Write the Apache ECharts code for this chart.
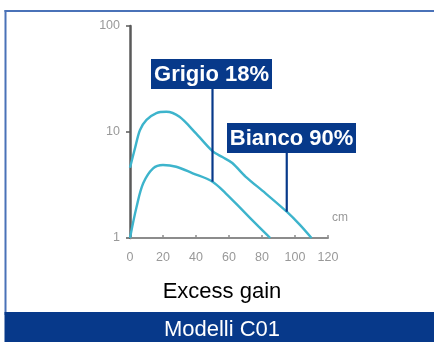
<!DOCTYPE html>
<html><head><meta charset="utf-8">
<script src="https://cdn.jsdelivr.net/npm/echarts@6/dist/echarts.min.js"></script>
<style>html,body{margin:0;padding:0;background:#fff}#c{width:434px;height:342px}</style>
</head><body><div id="c"></div>
<script>
// Data
const xTicks = [0, 20, 40, 60, 80, 100, 120];
const yTicks = [1, 10, 100];
const biancoX = [0, 3, 6, 10, 16, 22, 30, 40, 50, 56, 62, 70, 82, 95, 103, 110];
const biancoY = [4.6, 7, 10.4, 13, 15.1, 15.5, 13.9, 9.7, 6.6, 5.8, 5.1, 3.8, 2.65, 1.77, 1.33, 1.0];
const grigioX = [0, 4, 8, 14, 20, 28, 38, 50, 58, 68, 78, 85];
const grigioY = [1, 1.97, 3.28, 4.54, 4.88, 4.7, 4.08, 3.4, 2.64, 1.84, 1.28, 1.0];
const seriesNames = ['Bianco 90%', 'Grigio 18%'];
const pointerAt = { 'Bianco 90%': [95, 1.77], 'Grigio 18%': [50, 3.4] };
const xUnit = 'cm';
const caption = 'Excess gain';
const footer = 'Modelli C01';

const toPairs = (xs, ys) => xs.map((x, i) => [x, ys[i]]);
const curveColor = '#3db4cc';
const navy = '#07398a';
const font = 'Liberation Sans, Arial, sans-serif';

const chart = echarts.init(document.getElementById('c'), null, { renderer: 'canvas' });
chart.setOption({
  animation: false,
  backgroundColor: '#fff',
  grid: { left: 130, right: 106, top: 26, bottom: 104, containLabel: false },
  xAxis: {
    type: 'value', min: 0, max: 120, interval: 20,
    name: xUnit, nameLocation: 'end', nameGap: 4,
    nameTextStyle: { color: '#999', fontSize: 12, fontFamily: font, verticalAlign: 'bottom', padding: [0, 0, 14, 0] },
    axisLine: { show: true, lineStyle: { color: '#8c8c8c', width: 2 } },
    axisTick: { show: true, inside: true, length: 3, lineStyle: { color: '#8c8c8c', width: 1.5 } },
    axisLabel: { color: '#999', fontSize: 12.5, fontFamily: font, margin: 13,
      formatter: v => xTicks.includes(v) ? String(v) : '' },
    splitLine: { show: false }
  },
  yAxis: {
    type: 'log', min: 1, max: 100, logBase: 10,
    axisLine: { show: true, lineStyle: { color: '#5a5a5a', width: 2.5 } },
    axisTick: { show: true, length: 4, lineStyle: { color: '#5a5a5a', width: 1.5 } },
    axisLabel: { color: '#999', fontSize: 12.5, fontFamily: font, margin: 10,
      formatter: v => yTicks.includes(Math.round(v)) ? String(Math.round(v)) : '' },
    splitLine: { show: false }
  },
  series: [
    { name: seriesNames[0], type: 'line', smooth: 0.3, symbol: 'none',
      lineStyle: { color: curveColor, width: 2.4 }, data: toPairs(biancoX, biancoY) },
    { name: seriesNames[1], type: 'line', smooth: 0.35, symbol: 'none',
      lineStyle: { color: curveColor, width: 2.4 }, data: toPairs(grigioX, grigioY) }
  ]
});

const gp = chart.convertToPixel({ gridIndex: 0 }, pointerAt['Grigio 18%']);
const bp = chart.convertToPixel({ gridIndex: 0 }, pointerAt['Bianco 90%']);
const boxes = [
  { name: 'Grigio 18%', x: 151, y: 59, w: 121, h: 30, p: gp },
  { name: 'Bianco 90%', x: 227, y: 123, w: 129, h: 30, p: bp }
];
const graphics = [
  // frame
  { type: 'rect', shape: { x: 4.5, y: 10, width: 440, height: 2 }, style: { fill: '#4a72b8' }, z: 10 },
  { type: 'rect', shape: { x: 4.5, y: 10, width: 2, height: 305 }, style: { fill: '#4a72b8' }, z: 10 },
  { type: 'rect', shape: { x: 4.5, y: 312, width: 440, height: 40 }, style: { fill: navy }, z: 10 },
  { type: 'text', x: 222, y: 341, style: { text: footer, fill: '#fff', font: '22px ' + font, textAlign: 'center', textVerticalAlign: 'bottom' }, z: 11 },
  { type: 'text', x: 222, y: 292, style: { text: caption, fill: '#000', font: '22px ' + font, textAlign: 'center', textVerticalAlign: 'middle' }, z: 11 }
];
boxes.forEach(b => {
  graphics.push({ type: 'line', shape: { x1: b.p[0], y1: b.y + b.h, x2: b.p[0], y2: b.p[1] }, style: { stroke: navy, lineWidth: 2.2 }, z: 12 });
  graphics.push({ type: 'rect', shape: { x: b.x, y: b.y, width: b.w, height: b.h }, style: { fill: navy }, z: 12 });
  graphics.push({ type: 'text', x: b.x + b.w / 2, y: b.y + b.h / 2 + 1, style: { text: b.name, fill: '#fff', font: 'bold 22px ' + font, textAlign: 'center', textVerticalAlign: 'middle' }, z: 13 });
});
chart.setOption({ graphic: graphics });
</script>
</body></html>
